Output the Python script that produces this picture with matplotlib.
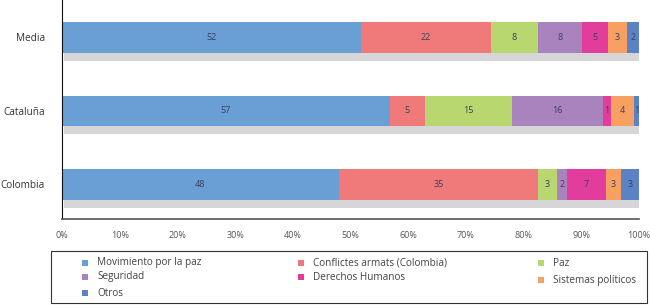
import matplotlib
matplotlib.use("Agg")
import matplotlib.pyplot as plt
from matplotlib.patches import Rectangle

plt.rcParams['font.family'] = ['Open Sans', 'DejaVu Sans']

groups = ["Colombia", "Cataluña", "Media"]
categories = ["Movimiento por la paz", "Conflictes armats (Colombia)", "Paz",
              "Seguridad", "Derechos Humanos", "Sistemas políticos", "Otros"]
colors = ["#6a9fd5", "#f07a7a", "#b9d76f", "#a983bd", "#e23c9c", "#f8a061", "#5c82c6"]

# segment widths (%), per group
colombia = [48.0, 34.5, 3.2, 1.8, 6.7, 2.7, 3.1]
cataluna = [56.8, 6.1, 15.1, 15.8, 1.3, 4.0, 0.9]
media = [51.8, 22.5, 8.2, 7.6, 4.5, 3.3, 2.1]
widths = [colombia, cataluna, media]

# printed labels
labels_colombia = [48, 35, 3, 2, 7, 3, 3]
labels_cataluna = [57, 5, 15, 16, 1, 4, 1]
labels_media = [52, 22, 8, 8, 5, 3, 2]
labels = [labels_colombia, labels_cataluna, labels_media]

W, H = 650, 305
fig = plt.figure(figsize=(6.5, 3.05), dpi=100)
ax = fig.add_axes([0.0954, 0.282, 0.8877, 0.718])

h = 0.42
for i, (w, lab) in enumerate(zip(widths, labels)):
    # grey shadow below the bar
    ax.barh(i - 0.11, sum(w), left=0.4, height=h, color="#d6d6d8", zorder=1)
    left = 0
    for v, l, c in zip(w, lab, colors):
        ax.barh(i, v, left=left, height=h, color=c, zorder=2)
        ax.text(left + v / 2, i, str(l), ha="center", va="center",
                fontsize=6.5, color="#3a3f5c", zorder=3)
        left += v

ax.set_xlim(0, 100)
ax.set_ylim(-0.47, 2.51)
ax.set_yticks(range(len(groups)))
ax.set_yticklabels(groups, fontsize=7.2, color="#333333")
ax.set_xticks(range(0, 101, 10))
ax.set_xticklabels([f"{t}%" for t in range(0, 101, 10)], fontsize=6.5, color="#555555")
ax.tick_params(length=0, pad=9)
ax.tick_params(axis="y", pad=12.5)
for s in ["top", "right"]:
    ax.spines[s].set_visible(False)
ax.spines["left"].set_color("#111111")
ax.spines["bottom"].set_color("#555555")
ax.spines["bottom"].set_linewidth(1.2)

# legend, laid out by hand (pixel positions of handle and row)
fig.add_artist(Rectangle((51 / W, 1 - 303 / H), 596 / W, 52 / H, transform=fig.transFigure,
                         fill=False, edgecolor="#333333", linewidth=0.8))
leg_pos = [(82, 263), (298, 263), (538, 263), (82, 277), (298, 277), (538, 280), (82, 293)]
for (px, py), name, c in zip(leg_pos, categories, colors):
    fig.add_artist(Rectangle((px / W, 1 - (py + 3) / H), 6 / W, 6 / H,
                             transform=fig.transFigure, facecolor=c, edgecolor="none"))
    fig.text((px + 15) / W, 1 - py / H, name, ha="left", va="center",
             fontsize=7.2, color="#444444")

fig.savefig("out.png", dpi=100)
